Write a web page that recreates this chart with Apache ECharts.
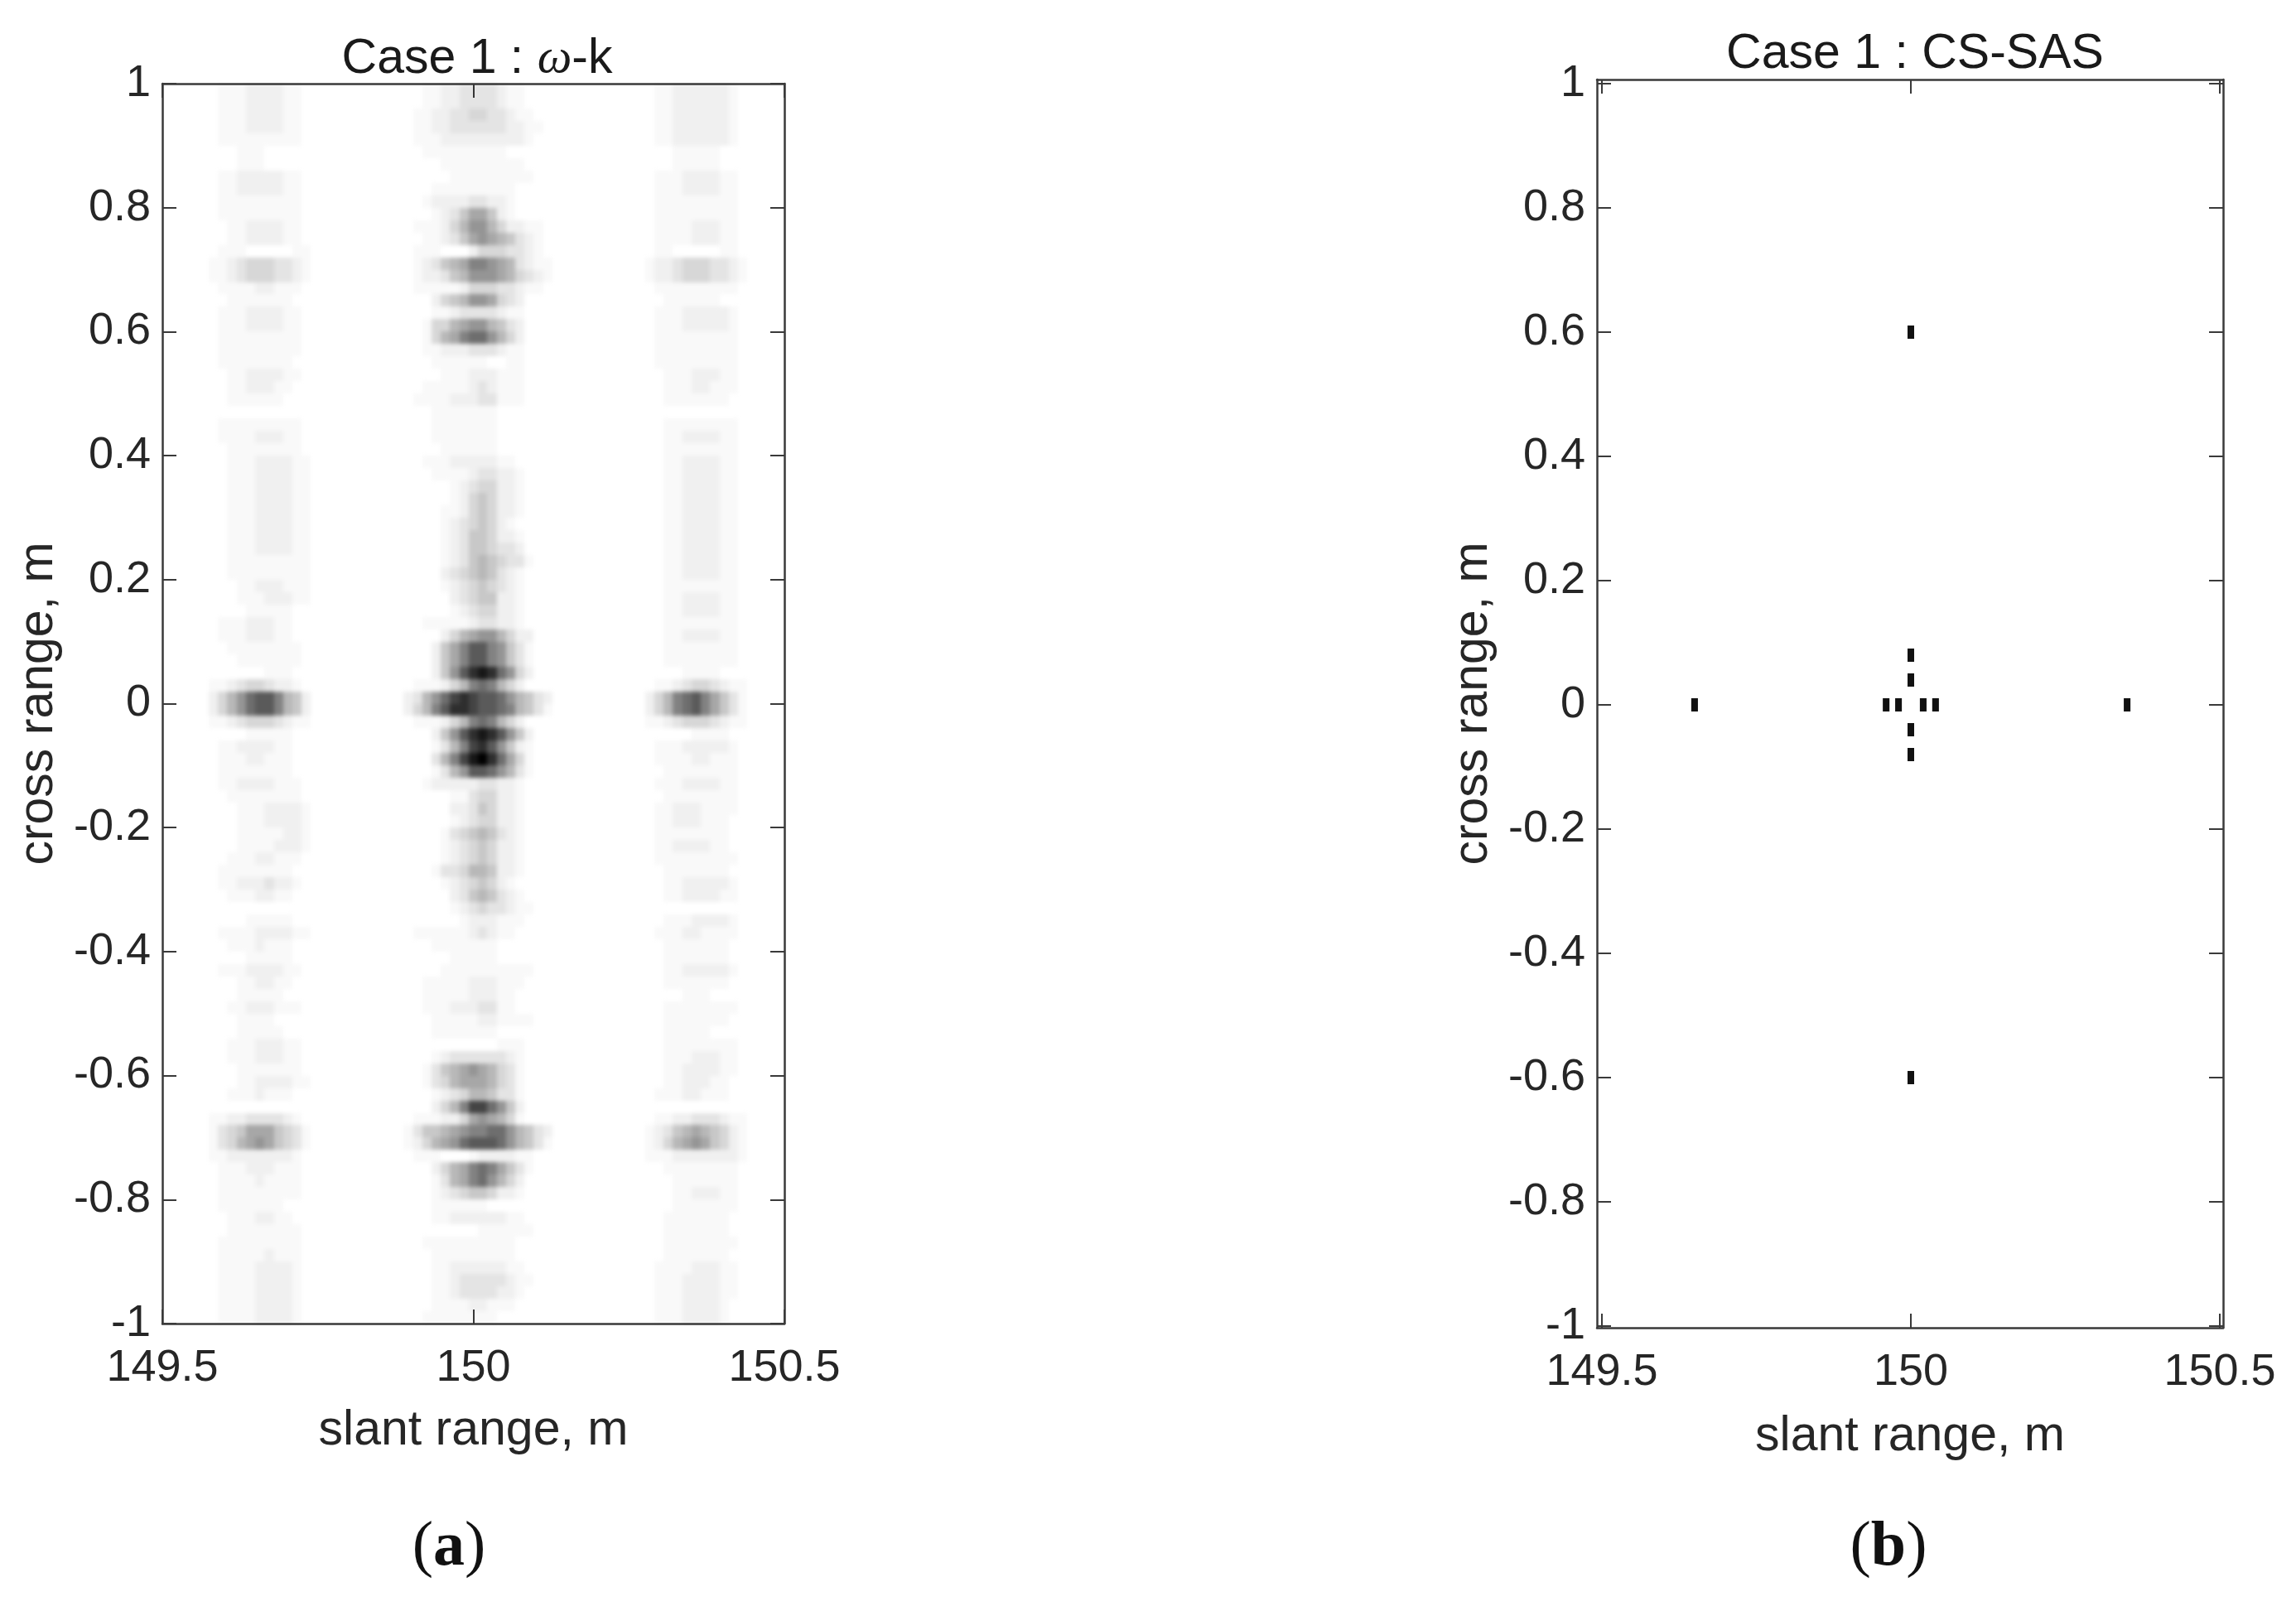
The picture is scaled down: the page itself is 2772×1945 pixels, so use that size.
<!DOCTYPE html>
<html><head><meta charset="utf-8">
<style>html,body{margin:0;padding:0;background:#fff}#c{width:2772px;height:1945px}
#c canvas[data-zr-dom-id="zr_1"]{filter:blur(2.6px);mix-blend-mode:multiply}</style>
<script src="https://cdn.jsdelivr.net/npm/echarts@6/dist/echarts.min.js"></script>
</head><body><div id="c"></div>
<script>
// Darkness (hex digit, 0 = white, f = black) read per image cell, one string per row from y = +1 down to y = -1.
const leftFirstCol = 5, centerFirstCol = 26, rightFirstCol = 52;
const leftStripe = [
"011122221100","011122221100","011122221100","011122221100","011111111100",
"000111000000","000111000000","011222221100","011222221100","011111111100",
"011111111100","001122221100","001122221100","011100000110","112344433210",
"112344433210","011112211100","001111111000","011122221100","011122221100",
"011111111100","011111111100","011111111000","001122221100","001122211000",
"001111110000","000000000000","011111111100","011112221100","001111111100",
"001112222110","001112222110","001112222110","001112222110","001112222110",
"001112222110","001112222110","001112222110","001111111110","001111111110",
"000112221110","000111222110","000011111000","011122211000","011122211000",
"001111111100","000111111100","000000111000","112344322100","2468abb96520",
"2468abb96520","112344432110","000011111000","011222211000","011122111000",
"011111111000","011222211100","001111111100","000111222210","000111222210",
"000111112210","000111122210","001112211100","011111111000","011222322100",
"001112211000","000000000000","000011111000","011112222110","001112111000",
"000011111000","011122221100","000112211000","000111110000","001122211100",
"000111100000","000111110000","001112221100","001112221100","000111111100",
"000112222110","001112111000","000000000000","112233332100","134577754310",
"134678754310","112222222100","011122211100","011112111100","011111111100",
"011111110000","001112211000","001111111100","011111111100","011111211100",
"011112222100","011112222100","011112222100","011112222100","011112222100"];
const centerStripe = [
"0011223333211000","0011223333211000","0112233443321100","0112233333322110","0111222222222100",
"0011111111100000","0000111111111000","0000011111111100","0001111111110000","0012222332210000",
"0001235775210000","0111246886422110","0011235787653210","0111000244433210","0123567998763211",
"0122356888764321","0111112444332110","0002456887432000","0001123333211000","0014467886532000",
"0014679aa8642000","0011222333211000","0001111110011000","0000111222111000","0011111232111000",
"0111122233111000","0001111111000000","0001111111000000","0001111111000000","0000111111000000",
"0011122222110000","0001111233221000","0000012344221000","0000012454221000","0000112454221000",
"0000123454210000","0000123554221000","0000123554332000","0000123565433100","0000234565321000",
"0000123454321000","0000023455221000","0000012344221000","0011111233221000","0000246788642200",
"0002579bb9853100","0002579bb9853100","000258bdeda84200","01112469a9642000","2368acdcbba86532",
"2469bddcbba96531","01112469a9642000","000258bdedb85200","0001369cdb852100","000369cefda74100",
"0001368bba863100","0012222233221000","0000011344221000","0000022354221000","0000012344221000",
"0000134565321000","0000123454221000","0000123454221000","0001334665221000","0000123454210000",
"0000023565321000","0000012343321100","0000001222111000","0111111232110000","0001111111000000",
"0000011111000000","0000111111111100","0011111222111000","0011111222110000","0011122233110000",
"0001111122111100","0001111111000000","0000000000111000","0001233333321000","0013567876431000",
"0013467776431000","0001234665331000","0002469cca852000","0111224787641000","135567899aa86532",
"124678abbba86531","0111000122221100","00024679a9753100","00013679a8642000","0001234554221000",
"0001111110000000","0001122222211000","0000000011111100","0011111111110000","0001111111110000",
"0001122222211000","0001123333321100","0001123333221000","0001111221110000","0011111111000000"];
const rightStripe = [
"011222222100","011222222100","011222222100","011222222100","011222222100",
"000111110000","000111110000","011122221100","011122221100","011111111100",
"011111111100","011112221100","011112221100","011000001100","122344433210",
"122344433210","011111111100","001111110000","011122222100","011122222100",
"011111111100","011111111100","011111111100","001112221100","001112211100",
"001111111000","000000000000","001111111100","001122221100","001111111100",
"001122221100","001122221100","001122221100","001122221100","001122221100",
"001122221100","001122221100","001122221100","001122221100","001122221100",
"001111111100","001122221100","001122221100","001111111100","001122221100",
"001111111100","001111111100","000011110000","011234432110","2469ab975310",
"2469ab975310","112344432110","000001111000","011122222100","011112211100",
"001111111100","011122221100","001111111100","011222111100","011222111000",
"011111111000","011222211000","011111111100","001111111000","001122222100",
"001122221100","000000000000","001112222100","011122111100","001111111000",
"001111111000","001122222100","001111111000","000011100000","001111111100",
"001111111000","001111100000","001111111100","001112221100","001122221100",
"001122211000","011122111000","000000000000","011223332110","123567654210",
"124678754210","111222222210","001111111100","000111111100","000112221100",
"000111111100","001111111000","001111111000","001111111100","001111111000",
"011112221100","011122221100","011122221100","011122221000","011122221000"];
const grayRamp = ["#ffffff","#f9f9f9","#f0f0f0","#e4e4e4","#d7d7d7","#c8c8c8","#b8b8b8","#a7a7a7",
                  "#959595","#828282","#6e6e6e","#5a5a5a","#444444","#2e2e2e","#171717","#000000"];
const columnCount = 67, rowCount = 100;
const csX = [149.65, 149.96, 149.98, 150.02, 150.04, 150.35, 150, 150, 150, 150, 150, 150];
const csY = [0, 0, 0, 0, 0, 0, 0.08, 0.04, -0.04, -0.08, 0.6, -0.6];
const xTicks = [149.5, 150, 150.5];
const yTicks = [1, 0.8, 0.6, 0.4, 0.2, 0, -0.2, -0.4, -0.6, -0.8, -1];
const xName = "slant range, m", yName = "cross range, m";

const dx = 1 / columnCount, dy = 2 / rowCount;
function addStripe(out, rows, firstCol) {
  rows.forEach((row, r) => {
    for (let i = 0; i < row.length; i++) {
      const d = parseInt(row[i], 16);
      if (d > 0) out.push([149.5 + (firstCol + i) * dx, 1 - r * dy, d]);
    }
  });
}
const wkData = [];
addStripe(wkData, leftStripe, leftFirstCol);
addStripe(wkData, centerStripe, centerFirstCol);
addStripe(wkData, rightStripe, rightFirstCol);

const TEXT = "#262626", LINE = "#3a3a3a", FONT = "'Liberation Sans', Arial, sans-serif";
function xAxis(gridIndex, pos, min, max, nameGap) {
  const main = pos === "bottom";
  return {
    type: "value", gridIndex, position: pos, min, max, scale: true,
    splitLine: { show: false },
    axisLine: { show: true, onZero: false, lineStyle: { color: LINE, width: 2.5 } },
    axisTick: { show: true, inside: true, length: 17, customValues: xTicks, lineStyle: { color: LINE, width: 2 } },
    axisLabel: { show: main, customValues: xTicks, margin: 27, fontSize: 54, fontFamily: FONT, color: TEXT,
                 hideOverlap: false, formatter: v => String(v) },
    name: main ? xName : "", nameLocation: "middle", nameGap,
    nameTextStyle: { fontSize: 59, fontFamily: FONT, color: TEXT }
  };
}
function yAxis(gridIndex, pos, min, max, nameGap) {
  const main = pos === "left";
  return {
    type: "value", gridIndex, position: pos, min, max, scale: true,
    splitLine: { show: false },
    axisLine: { show: true, onZero: false, lineStyle: { color: LINE, width: 2.5 } },
    axisTick: { show: true, inside: true, length: 17, customValues: yTicks, lineStyle: { color: LINE, width: 2 } },
    axisLabel: { show: main, customValues: yTicks, margin: 14, padding: [6, 0, 0, 0], fontSize: 54, fontFamily: FONT, color: TEXT,
                 hideOverlap: false, formatter: v => String(v) },
    name: main ? yName : "", nameLocation: "middle", nameGap, nameRotate: 90,
    nameTextStyle: { fontSize: 59, fontFamily: FONT, color: TEXT }
  };
}
function cellRender(params, api) {
  const a = api.coord([api.value(0), api.value(1)]);
  const b = api.coord([api.value(0) + dx, api.value(1) - dy]);
  const x = Math.round(a[0]), y = Math.round(a[1]);
  return { type: "rect", shape: { x, y, width: Math.round(b[0]) - x, height: Math.round(b[1]) - y },
           style: { fill: grayRamp[api.value(2)] } };
}
const csHalfW = 0.0054, csHalfH = 0.0107;
function pointRender(params, api) {
  const a = api.coord([api.value(0) - csHalfW, api.value(1) + csHalfH]);
  const b = api.coord([api.value(0) + csHalfW, api.value(1) - csHalfH]);
  return { type: "rect", shape: { x: a[0], y: a[1], width: b[0] - a[0], height: b[1] - a[1] },
           style: { fill: "#111111" } };
}
const rx0 = 150 - 379 / 746, rx1 = 150 + 377 / 746, ry1 = 1 + 5 / 750, ry0 = -1 - 2 / 750;
const titleStyle = { fontSize: 59, fontWeight: "normal", fontFamily: FONT, color: "#1a1a1a" };
const capBase = { fontSize: 76, fontWeight: "normal", fontFamily: "'Liberation Serif', 'Times New Roman', serif", color: "#111" };

const chart = echarts.init(document.getElementById("c"), null, { renderer: "canvas" });
chart.setOption({
  animation: false,
  grid: [
    { left: 196, top: 101, width: 751, height: 1497 },
    { left: 1928, top: 96, width: 756, height: 1507 }
  ],
  xAxis: [
    xAxis(0, "bottom", 149.5, 150.5, 100), xAxis(0, "top", 149.5, 150.5, 0),
    xAxis(1, "bottom", rx0, rx1, 102), xAxis(1, "top", rx0, rx1, 0)
  ],
  yAxis: [
    yAxis(0, "left", -1, 1, 120), yAxis(0, "right", -1, 1, 0),
    yAxis(1, "left", ry0, ry1, 120), yAxis(1, "right", ry0, ry1, 0)
  ],
  title: [
    { text: "Case 1 : {w|ω}-k", left: 571, top: 37, textAlign: "center",
      textStyle: { ...titleStyle, rich: { w: { ...titleStyle, fontStyle: "italic", fontFamily: "'Liberation Serif', serif" } } } },
    { text: "Case 1 : CS-SAS", left: 2307, top: 31, textAlign: "center", textStyle: titleStyle },
    { text: "({b|a})", left: 537, top: 1826, textAlign: "center",
      textStyle: { ...capBase, rich: { b: { ...capBase, fontWeight: "bold" } } } },
    { text: "({b|b})", left: 2275, top: 1826, textAlign: "center",
      textStyle: { ...capBase, rich: { b: { ...capBase, fontWeight: "bold" } } } }
  ],
  series: [
    { type: "custom", xAxisIndex: 0, yAxisIndex: 0, clip: true, progressive: 0, silent: true, zlevel: 1,
      renderItem: cellRender, encode: { x: 0, y: 1 }, data: wkData, z: 1 },
    { type: "custom", xAxisIndex: 2, yAxisIndex: 2, clip: true, progressive: 0, silent: true,
      renderItem: pointRender, encode: { x: 0, y: 1 }, data: csX.map((x, i) => [x, csY[i]]), z: 1 }
  ]
});
</script></body></html>
